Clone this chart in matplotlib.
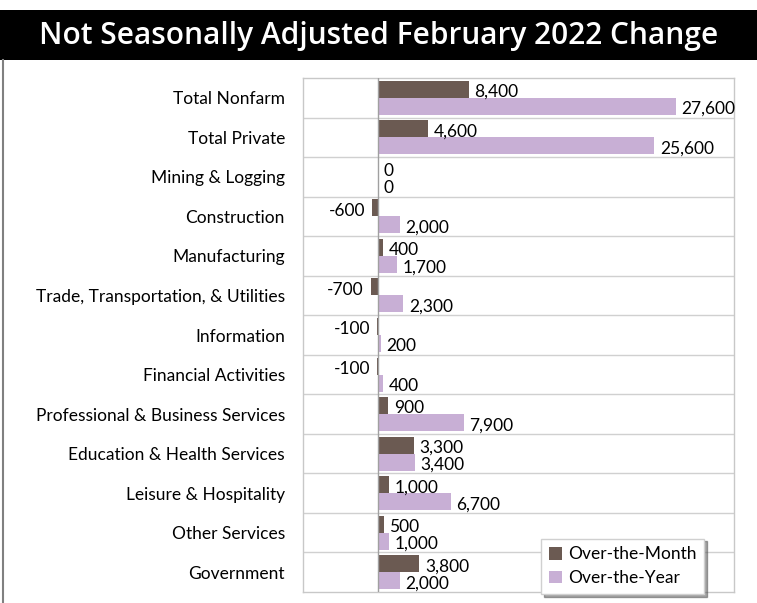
import matplotlib
matplotlib.use("Agg")
import matplotlib.pyplot as plt
from matplotlib.patches import Rectangle
from matplotlib.lines import Line2D

categories = ["Total Nonfarm", "Total Private", "Mining & Logging", "Construction",
              "Manufacturing", "Trade, Transportation, & Utilities", "Information",
              "Financial Activities", "Professional & Business Services",
              "Education & Health Services", "Leisure & Hospitality",
              "Other Services", "Government"]
over_month = [8400, 4600, 0, -600, 400, -700, -100, -100, 900, 3300, 1000, 500, 3800]
over_year = [27600, 25600, 0, 2000, 1700, 2300, 200, 400, 7900, 3400, 6700, 1000, 2000]
series_names = ["Over-the-Month", "Over-the-Year"]
title = "Not Seasonally Adjusted February 2022 Change"

c_month = "#6B5A52"
c_year = "#C8AFD5"
font = "Lato"
fs = 12.5

fig = plt.figure(figsize=(7.57, 6.03), dpi=100)
W, H = 757, 603

fig.patches.append(Rectangle((0, 1 - 60 / H), 1, 50 / H, transform=fig.transFigure,
                             facecolor="black", edgecolor="none", zorder=0))
fig.text(0.5, 1 - 36 / H, title, ha="center", va="center", color="white",
         family="Open Sans", fontweight="semibold", fontsize=21.5)
fig.lines.append(Line2D([2.5 / W, 2.5 / W], [0, 1 - 60 / H], transform=fig.transFigure,
                        color="#808080", lw=1.5))

ax = fig.add_axes([303 / W, 11 / H, (734 - 303) / W, (592 - 78) / H])

n = len(categories)
ys = list(range(n))
bh = 0.43
off = 0.215
ym = [y - off for y in ys]
yy = [y + off for y in ys]
ax.barh(ym, over_month, height=bh, color=c_month, label=series_names[0], zorder=3)
ax.barh(yy, over_year, height=bh, color=c_year, label=series_names[1], zorder=3)

ax.set_xlim(-7000, 33000)
ax.set_ylim(n - 0.5, -0.5)
ax.set_yticks(ys)
ax.set_yticklabels(categories, fontsize=fs, family=font)
ax.tick_params(axis="y", length=0, pad=13)
ax.set_xticks([])

for y in range(n - 1):
    ax.axhline(y + 0.5, color="#D0D0D0", lw=1, zorder=1)
ax.axvline(0, color="#A0A0A0", lw=1, zorder=4)
for s in ax.spines.values():
    s.set_color("#C8C8C8")
    s.set_linewidth(1)

def fmt(v):
    return f"{v:,}"

for vals, ypos in ((over_month, ym), (over_year, yy)):
    for v, y in zip(vals, ypos):
        if v < 0:
            ax.annotate(fmt(v), (v, y), xytext=(-5, -2), textcoords="offset points",
                        ha="right", va="center", fontsize=fs, family=font, zorder=5)
        else:
            ax.annotate(fmt(v), (v, y), xytext=(4, -2), textcoords="offset points",
                        ha="left", va="center", fontsize=fs, family=font, zorder=5)

leg = ax.legend(loc="lower right", bbox_to_anchor=((704 - 303) / (734 - 303), -2 / 514),
                prop={"family": font, "size": fs}, frameon=True, fancybox=False,
                shadow=True, handlelength=0.75, handleheight=0.75, handletextpad=0.35,
                borderpad=0.45, labelspacing=0.45, borderaxespad=0, edgecolor="#D0D0D0",
                framealpha=1)
leg.get_frame().set_linewidth(1)
leg.set_zorder(10)

fig.savefig("out.png", dpi=100)
